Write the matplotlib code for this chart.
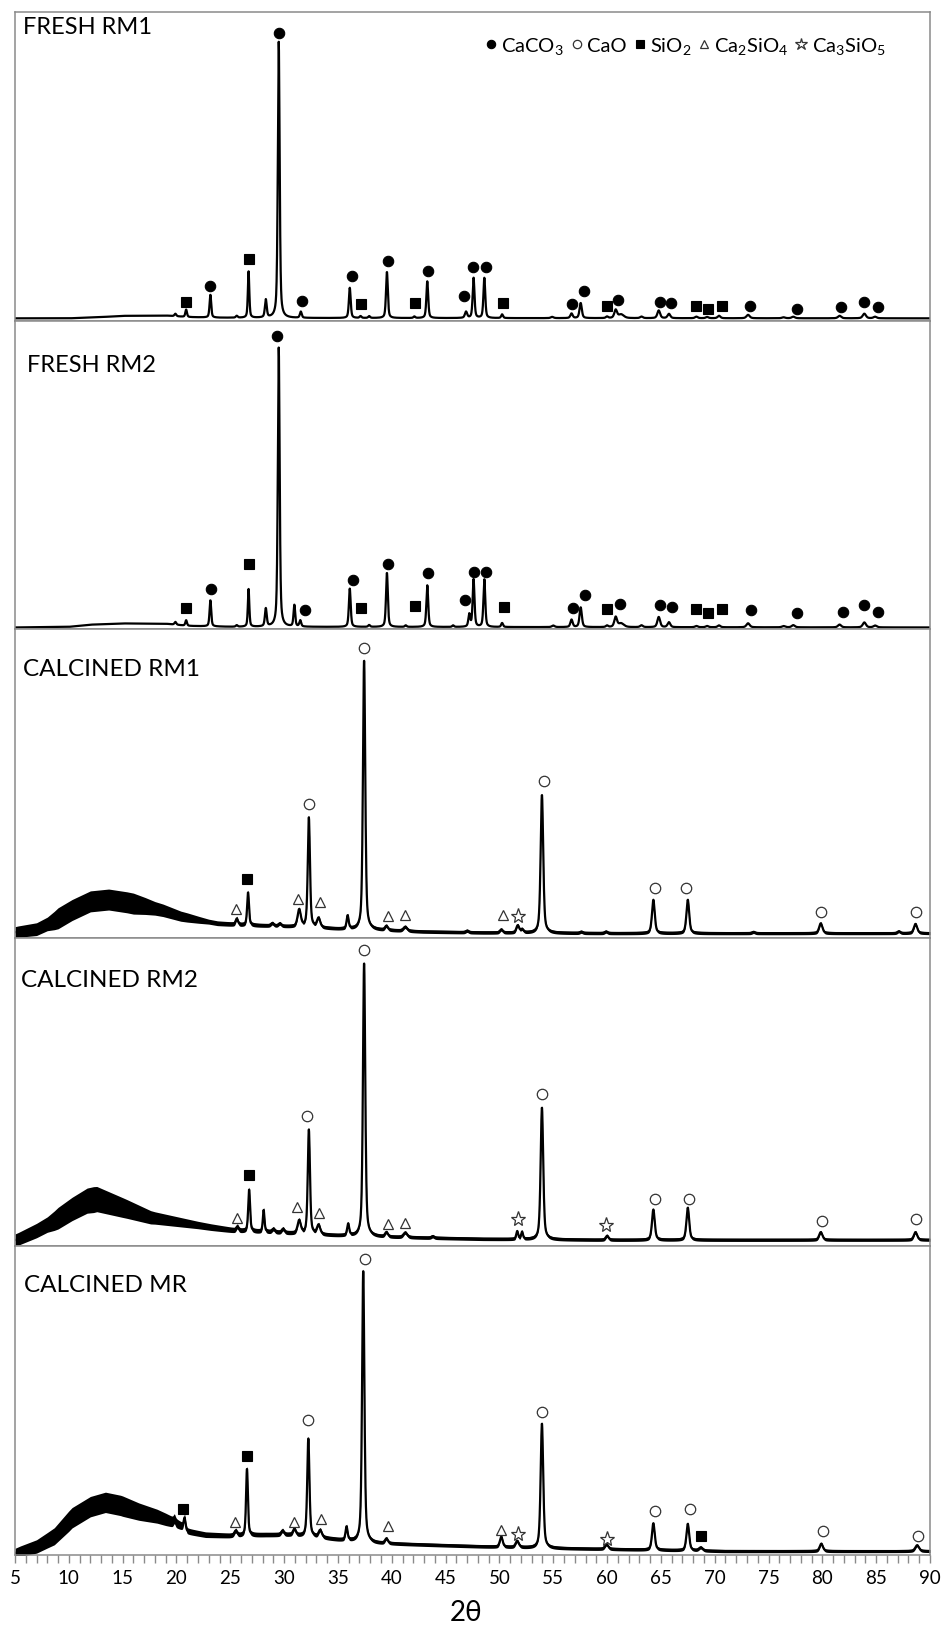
import numpy as np
import matplotlib
matplotlib.use('Agg')
import matplotlib.pyplot as plt
from matplotlib.lines import Line2D

plt.rcParams['font.family'] = ['Lato', 'DejaVu Sans']
plt.rcParams['mathtext.fontset'] = 'custom'
plt.rcParams['mathtext.rm'] = 'Lato'
plt.rcParams['mathtext.it'] = 'Lato:italic'
plt.rcParams['mathtext.bf'] = 'Lato:bold'

# ---- diffraction data: background points, peaks (2theta, net height, fwhm), phase marks ----
# intensity is in arbitrary units, 0-100 per panel

# FRESH RM1
rm1_bg_x = [5, 10, 13, 15, 19, 21, 24, 30, 90]
rm1_bg_y = [0.8, 0.8, 1.2, 1.6, 1.7, 1.2, 1.0, 0.9, 0.8]
rm1_pk_pos = [19.9, 20.9, 23.15, 25.6, 26.7, 28.3, 29.5, 31.55, 36.1, 37.1, 37.9, 39.55, 42.1, 43.3,
              46.9, 47.6, 48.6, 50.25, 54.9, 56.7, 57.55, 60.0, 60.8, 61.3, 63.2, 64.8, 65.75, 68.3,
              69.3, 70.4, 73.1, 76.4, 77.3, 81.6, 83.9, 84.9]
rm1_pk_h = [0.8, 2.4, 7.4, 0.6, 15.0, 5.8, 89.5, 2.0, 9.8, 0.6, 0.6, 15.0, 0.5, 11.9,
            2.0, 13.0, 13.0, 1.2, 0.4, 1.5, 4.9, 0.5, 2.6, 1.2, 0.5, 2.5, 1.4, 0.5,
            0.4, 0.8, 1.1, 0.3, 0.5, 0.8, 1.5, 0.5]
rm1_pk_w = [0.2, 0.18, 0.18, 0.2, 0.16, 0.2, 0.2, 0.2, 0.2, 0.2, 0.2, 0.2, 0.2, 0.2,
            0.25, 0.2, 0.2, 0.2, 0.3, 0.25, 0.25, 0.25, 0.3, 0.6, 0.3, 0.3, 0.3, 0.3,
            0.3, 0.3, 0.35, 0.35, 0.35, 0.35, 0.35, 0.35]
rm1_mk_x = [29.5, 20.88, 23.13, 26.72, 31.66, 36.31, 37.1, 39.62, 42.15, 43.38, 46.75, 47.59, 48.71,
            50.34, 56.74, 57.86, 59.99, 61.06, 64.88, 65.94, 68.24, 69.42, 70.71, 73.24, 77.62,
            81.77, 83.9, 85.13]
rm1_mk_y = [93.3, 6.0, 11.4, 19.9, 6.5, 14.4, 5.5, 19.4, 5.8, 16.3, 7.9, 17.3, 17.3,
            5.8, 5.5, 9.6, 4.8, 6.8, 6.0, 5.7, 4.8, 3.7, 4.8, 4.8, 3.7,
            4.5, 6.0, 4.5]
rm1_mk_ph = ['CaCO3', 'SiO2', 'CaCO3', 'SiO2', 'CaCO3', 'CaCO3', 'SiO2', 'CaCO3', 'SiO2', 'CaCO3',
             'CaCO3', 'CaCO3', 'CaCO3', 'SiO2', 'CaCO3', 'CaCO3', 'SiO2', 'CaCO3', 'CaCO3', 'CaCO3',
             'SiO2', 'SiO2', 'SiO2', 'CaCO3', 'CaCO3', 'CaCO3', 'CaCO3', 'CaCO3']

# FRESH RM2
rm2_bg_x = [5, 10, 12, 15, 19, 21, 25, 90]
rm2_bg_y = [0.6, 0.8, 1.5, 1.9, 1.8, 1.1, 0.8, 0.6]
rm2_pk_pos = [19.9, 20.9, 23.15, 25.6, 26.7, 28.3, 29.5, 30.95, 31.5, 36.1, 37.9, 39.55, 41.3, 43.3,
              45.7, 47.2, 47.6, 48.6, 50.25, 55.0, 56.7, 57.55, 60.0, 60.8, 61.3, 63.2, 64.8, 65.75,
              68.3, 69.3, 70.4, 73.1, 76.4, 77.3, 81.6, 83.9, 84.9]
rm2_pk_h = [0.9, 1.8, 8.5, 0.5, 12.2, 5.8, 90.5, 7.0, 2.0, 12.4, 0.6, 17.6, 0.5, 13.5,
            0.5, 4.0, 15.4, 15.4, 1.3, 0.5, 2.4, 6.4, 0.5, 3.2, 1.2, 0.6, 3.3, 1.6,
            0.4, 0.4, 0.6, 1.3, 0.4, 0.7, 0.9, 1.6, 0.6]
rm2_pk_w = [0.2, 0.18, 0.18, 0.2, 0.16, 0.2, 0.2, 0.18, 0.2, 0.2, 0.2, 0.2, 0.2, 0.2,
            0.2, 0.2, 0.2, 0.2, 0.2, 0.3, 0.25, 0.25, 0.25, 0.3, 0.6, 0.3, 0.3, 0.3,
            0.3, 0.3, 0.3, 0.35, 0.35, 0.35, 0.35, 0.35, 0.35]
rm2_mk_x = [29.36, 20.88, 23.18, 26.78, 31.94, 36.43, 37.1, 39.68, 42.15, 43.38, 46.81, 47.65, 48.77,
            50.4, 56.85, 57.97, 59.99, 61.23, 64.93, 66.05, 68.24, 69.42, 70.71, 73.35, 77.67,
            81.88, 83.9, 85.13]
rm2_mk_y = [95.2, 6.8, 13.0, 21.3, 6.2, 15.9, 7.0, 21.3, 7.5, 18.1, 9.5, 18.6, 18.6,
            7.2, 7.0, 11.0, 6.5, 8.1, 7.9, 7.2, 6.5, 5.4, 6.5, 6.4, 5.4,
            5.7, 7.8, 5.7]
rm2_mk_ph = rm1_mk_ph

# CALCINED RM1
crm1_bg_x = [5, 5.3, 7.0, 8.65, 10.3, 12.0, 13.7, 15.4, 17.1, 18.75, 20.4, 22.1, 23.8, 26.0, 28.85,
             32.8, 35.0, 38.4, 42.9, 48.5, 59.7, 90]
crm1_bg_y = [1.8, 2.0, 2.8, 5.6, 9.0, 11.8, 12.4, 11.5, 10.3, 8.9, 7.0, 5.8, 4.7, 4.2, 3.9,
             3.3, 2.9, 2.6, 2.0, 1.7, 1.5, 1.5]
crm1_noise_x = [5, 8, 9, 16, 18, 21, 23, 30, 90]
crm1_noise_y = [1.8, 2.2, 3.4, 3.4, 2.2, 1.5, 0.8, 0.6, 0.5]
crm1_pk_pos = [25.6, 26.65, 28.9, 29.6, 31.4, 32.3, 33.2, 35.9, 37.43, 39.5, 41.25, 47.0, 50.17,
               51.7, 52.1, 53.95, 57.6, 59.9, 64.3, 67.5, 73.6, 79.85, 87.1, 88.65]
crm1_pk_h = [1.9, 10.6, 0.8, 0.8, 5.5, 35.5, 3.0, 4.2, 87.5, 1.3, 1.3, 0.5, 1.0,
             2.3, 1.0, 44.8, 0.4, 0.5, 10.8, 10.8, 0.4, 3.2, 0.6, 3.0]
crm1_pk_w = [0.25, 0.2, 0.3, 0.3, 0.35, 0.24, 0.35, 0.22, 0.25, 0.3, 0.4, 0.3, 0.3,
             0.3, 0.3, 0.28, 0.3, 0.3, 0.3, 0.3, 0.3, 0.35, 0.3, 0.35]
crm1_mk_x = [25.54, 26.55, 31.32, 32.27, 33.34, 37.43, 39.62, 41.25, 50.34, 51.69, 54.1, 64.43,
             67.35, 79.92, 88.67]
crm1_mk_y = [9.2, 18.9, 12.5, 43.4, 11.6, 94.0, 7.1, 7.5, 7.3, 7.1, 50.8, 16.3, 16.3, 8.4, 8.4]
crm1_mk_ph = ['Ca2SiO4', 'SiO2', 'Ca2SiO4', 'CaO', 'Ca2SiO4', 'CaO', 'Ca2SiO4', 'Ca2SiO4',
              'Ca2SiO4', 'Ca3SiO5', 'CaO', 'CaO', 'CaO', 'CaO', 'CaO']

# CALCINED RM2
crm2_bg_x = [5, 5.3, 7.0, 8.65, 10.3, 11.7, 12.6, 14.0, 15.4, 17.6, 20.4, 23.2, 25.5, 28.85, 31.65,
             35.0, 40.1, 48.5, 59.7, 90]
crm2_bg_y = [2.0, 2.4, 5.1, 8.3, 12.1, 14.8, 15.3, 13.7, 12.1, 9.4, 7.8, 6.2, 5.1, 4.6, 4.0,
             3.5, 3.0, 2.4, 2.1, 2.1]
crm2_noise_x = [5, 8, 9, 12.3, 15, 18, 22, 26, 35, 90]
crm2_noise_y = [2.0, 2.5, 3.5, 4.2, 3.2, 2.0, 1.2, 0.8, 0.6, 0.5]
crm2_pk_pos = [25.65, 26.75, 28.1, 29.0, 29.9, 31.4, 32.3, 33.2, 35.95, 37.43, 39.5, 41.25, 43.8,
               51.65, 52.1, 53.95, 60.0, 64.3, 67.5, 79.85, 88.65]
crm2_pk_h = [1.3, 13.5, 7.0, 1.0, 1.2, 4.2, 33.8, 3.0, 3.7, 88.8, 1.4, 1.5, 0.5,
             2.5, 2.3, 42.8, 1.3, 9.8, 10.4, 2.5, 2.5]
crm2_pk_w = [0.25, 0.2, 0.18, 0.3, 0.3, 0.35, 0.24, 0.35, 0.22, 0.25, 0.3, 0.4, 0.3,
             0.2, 0.2, 0.28, 0.3, 0.3, 0.3, 0.35, 0.35]
crm2_mk_x = [25.65, 26.72, 31.2, 32.16, 33.23, 37.38, 39.62, 41.25, 51.75, 53.94, 59.94, 64.43,
             67.57, 79.97, 88.67]
crm2_mk_y = [9.2, 23.1, 12.8, 42.3, 10.7, 96.2, 7.2, 7.4, 9.0, 49.3, 7.0, 15.3, 15.3, 8.1, 8.8]
crm2_mk_ph = ['Ca2SiO4', 'SiO2', 'Ca2SiO4', 'CaO', 'Ca2SiO4', 'CaO', 'Ca2SiO4', 'Ca2SiO4',
              'Ca3SiO5', 'CaO', 'Ca3SiO5', 'CaO', 'CaO', 'CaO', 'CaO']

# CALCINED MR
cmr_bg_x = [5, 5.5, 7.0, 8.65, 10.3, 12.0, 13.4, 14.8, 16.5, 18.2, 19.9, 20.6, 21.0, 22.7, 24.9,
            28.3, 30.5, 32.8, 35.0, 38.4, 42.9, 48.5, 54.1, 59.7, 70.9, 90]
cmr_bg_y = [0.6, 1.2, 2.7, 6.0, 12.0, 15.6, 17.0, 16.0, 14.0, 12.5, 10.3, 9.0, 7.6, 6.5, 6.2,
            6.5, 6.5, 5.8, 4.9, 3.8, 3.3, 2.7, 2.2, 1.9, 1.2, 1.2]
cmr_noise_x = [5, 8, 10, 15, 19, 21, 25, 40, 90]
cmr_noise_y = [1.5, 2.5, 3.3, 3.3, 2.0, 1.0, 0.8, 0.6, 0.5]
cmr_pk_pos = [19.8, 20.75, 25.5, 26.55, 29.85, 30.95, 32.25, 33.35, 35.8, 37.35, 39.5, 50.17,
              51.65, 53.95, 59.95, 64.3, 67.5, 68.7, 79.9, 88.8]
cmr_pk_h = [1.2, 3.6, 1.5, 21.6, 1.3, 2.0, 31.8, 2.3, 4.3, 88.2, 1.5, 3.3,
            2.0, 40.4, 1.5, 8.6, 8.6, 1.0, 2.4, 1.9]
cmr_pk_w = [0.2, 0.2, 0.3, 0.2, 0.3, 0.3, 0.24, 0.35, 0.22, 0.25, 0.3, 0.3,
            0.35, 0.28, 0.35, 0.3, 0.3, 0.4, 0.35, 0.4]
cmr_mk_x = [20.6, 25.48, 26.55, 30.93, 32.22, 33.45, 37.49, 39.62, 50.17, 51.69, 53.94, 59.99,
            64.43, 67.68, 68.69, 80.03, 88.9]
cmr_mk_y = [14.7, 10.6, 32.1, 10.6, 43.6, 11.7, 95.9, 9.3, 8.0, 6.9, 46.3, 5.1, 14.2, 14.7,
            6.0, 7.6, 6.0]
cmr_mk_ph = ['SiO2', 'Ca2SiO4', 'SiO2', 'Ca2SiO4', 'CaO', 'Ca2SiO4', 'CaO', 'Ca2SiO4', 'Ca2SiO4',
             'Ca3SiO5', 'CaO', 'Ca3SiO5', 'CaO', 'CaO', 'SiO2', 'CaO', 'CaO']

panel_names = ['FRESH RM1', 'FRESH RM2', 'CALCINED RM1', 'CALCINED RM2', 'CALCINED MR']

# marker style for each phase
phase_style = {
    'CaCO3':   dict(marker='o', ms=7.5, mfc='black', mec='black', mew=0.8),
    'CaO':     dict(marker='o', ms=7.5, mfc='white', mec='#333333', mew=0.9),
    'SiO2':    dict(marker='s', ms=7.0, mfc='black', mec='black', mew=0.8),
    'Ca2SiO4': dict(marker='^', ms=7.5, mfc='white', mec='#333333', mew=0.9),
    'Ca3SiO5': dict(marker='*', ms=11, mfc='white', mec='#333333', mew=0.9),
}
phase_label = {'CaCO3': 'CaCO$_3$', 'CaO': 'CaO', 'SiO2': 'SiO$_2$',
               'Ca2SiO4': 'Ca$_2$SiO$_4$', 'Ca3SiO5': 'Ca$_3$SiO$_5$'}

two_theta = np.arange(5, 90.001, 0.02)


def pattern(bg_x, bg_y, pos, h, w):
    y = np.interp(two_theta, bg_x, bg_y)
    for p, a, fw in zip(pos, h, w):
        d = (two_theta - p) / (fw / 2)
        y = y + a * (0.5 / (1 + d ** 2) + 0.5 * np.exp(-np.log(2) * d ** 2))
    return y


panels = [
    (rm1_bg_x, rm1_bg_y, None, None, rm1_pk_pos, rm1_pk_h, rm1_pk_w, rm1_mk_x, rm1_mk_y, rm1_mk_ph),
    (rm2_bg_x, rm2_bg_y, None, None, rm2_pk_pos, rm2_pk_h, rm2_pk_w, rm2_mk_x, rm2_mk_y, rm2_mk_ph),
    (crm1_bg_x, crm1_bg_y, crm1_noise_x, crm1_noise_y, crm1_pk_pos, crm1_pk_h, crm1_pk_w,
     crm1_mk_x, crm1_mk_y, crm1_mk_ph),
    (crm2_bg_x, crm2_bg_y, crm2_noise_x, crm2_noise_y, crm2_pk_pos, crm2_pk_h, crm2_pk_w,
     crm2_mk_x, crm2_mk_y, crm2_mk_ph),
    (cmr_bg_x, cmr_bg_y, cmr_noise_x, cmr_noise_y, cmr_pk_pos, cmr_pk_h, cmr_pk_w,
     cmr_mk_x, cmr_mk_y, cmr_mk_ph),
]
label_pos = [(0.009, 0.953), (0.013, 0.858), (0.009, 0.874), (0.007, 0.864), (0.010, 0.875)]

W, H = 943, 1633
fig = plt.figure(figsize=(W / 100, H / 100), dpi=100)
top0, ph = 13.3, 308.5
frame = '#8a8a8a'

axes = []
for i, (bx, by, nx, ny, pos, h, w, mx, my, mph) in enumerate(panels):
    ax = fig.add_axes([15 / W, 1 - (top0 + (i + 1) * ph) / H, 915 / W, ph / H])
    axes.append(ax)
    y = pattern(bx, by, pos, h, w)
    if nx is not None:
        half = np.interp(two_theta, nx, ny)
        ax.fill_between(two_theta, y - half, y + half, color='black', lw=0)
    ax.plot(two_theta, y, color='black', lw=1.6)
    for x0, y0, p in zip(mx, my, mph):
        ax.plot(x0, y0, ls='none', clip_on=False, **phase_style[p])
    ax.text(*label_pos[i], panel_names[i], transform=ax.transAxes, ha='left', va='center',
            fontsize=17.5 if i >= 2 else 17)
    ax.set_xlim(5, 90)
    ax.set_ylim(0, 100)
    ax.set_yticks([])
    for s in ax.spines.values():
        s.set_color(frame)
        s.set_linewidth(1.1)
    if i < 4:
        ax.set_xticks([])

# legend of phases in the top panel
handles = [Line2D([], [], ls='none', **phase_style[k]) for k in phase_style]
axes[0].legend(handles, [phase_label[k] for k in phase_style], ncol=5, loc='center right',
               bbox_to_anchor=(0.962, 0.892), frameon=False, fontsize=14.5, markerscale=0.8,
               handlelength=0.7, handletextpad=0.15, columnspacing=0.3, borderpad=0)

bot = axes[-1]
bot.set_xticks(np.arange(5, 91, 5))
bot.set_xticks(np.arange(5, 91, 1), minor=True)
bot.tick_params(axis='x', which='both', direction='out', length=6, width=1, color=frame,
                labelsize=13.5, pad=4)
fig.text(466 / W, 1 - 1613 / H, '2θ', ha='center', va='center', fontsize=20)

fig.savefig('out.png', dpi=100)
